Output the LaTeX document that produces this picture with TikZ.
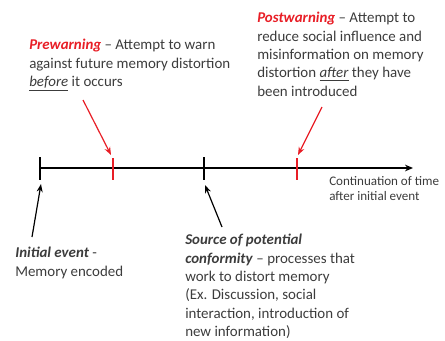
\documentclass[tikz,border=0pt]{standalone}
\usepackage{fontspec}
\setmainfont{Carlito}
\usetikzlibrary{arrows.meta}
\definecolor{warnred}{RGB}{232,30,38}
\definecolor{inkgray}{RGB}{60,60,60}

\begin{document}
\begin{tikzpicture}[x=0.75pt, y=-0.75pt,
    txt/.style={anchor=north west, align=left, inner sep=0pt, text=inkgray,
        font=\fontsize{11.2}{13.8}\selectfont},
    small/.style={txt, font=\fontsize{9.8}{11.4}\selectfont},
    tickmark/.style={line width=1.2pt},
    ptr/.style={-{Stealth[length=6pt,width=4.5pt]}, line width=0.9pt}]

    \useasboundingbox (0,0) rectangle (445,340);

    % time line with its four marks
    \coordinate (t0) at (40,168);
    \coordinate (tend) at (413,168);
    \draw[-{Stealth[length=6pt,width=5pt]}, line width=1.1pt] (t0) -- (tend);

    \coordinate (init) at (40,180);
    \coordinate (pre) at (113,158);
    \coordinate (src) at (204,180);
    \coordinate (post) at (297,158);
    \draw[tickmark] (40,157) -- (init);
    \draw[tickmark] (204,157) -- (src);
    \draw[tickmark, warnred] (pre) -- (113,180);
    \draw[tickmark, warnred] (post) -- (297,180);

    % labels above the line
    \node[txt] (prewarn) at (29,39)
        {\textcolor{warnred}{\textbf{\textit{Prewarning}}} – Attempt to warn\\
         against future memory distortion\\
         \underline{\textit{before}} it occurs};
    \node[txt] (postwarn) at (257,12)
        {\textcolor{warnred}{\textbf{\textit{Postwarning}}} – Attempt to\\
         reduce social influence and\\
         misinformation on memory\\
         distortion \underline{\textit{after}} they have\\
         been introduced};

    % labels below the line
    \node[small] (cont) at (329,176) {Continuation of time\\ after initial event};
    \node[txt] (initev) at (15,247)
        {\textbf{\textit{Initial event}} -\\ Memory encoded};
    \node[txt] (source) at (185,234)
        {\textbf{\textit{Source of potential}}\\
         \textbf{\textit{conformity}} – processes that\\
         work to distort memory\\
         (Ex. Discussion, social\\
         interaction, introduction of\\
         new information)};

    % pointers to the marks
    \coordinate (preStart) at (83,100);
    \coordinate (preTip) at (111,155);
    \coordinate (postStart) at (322,107);
    \coordinate (postTip) at (298,155);
    \coordinate (initStart) at (32,237);
    \coordinate (initTip) at (41,184);
    \coordinate (srcStart) at (222,227);
    \coordinate (srcTip) at (205,185);
    \draw[ptr, warnred] (preStart) -- (preTip);
    \draw[ptr, warnred] (postStart) -- (postTip);
    \draw[ptr] (initStart) -- (initTip);
    \draw[ptr] (srcStart) -- (srcTip);
\end{tikzpicture}
\end{document}
